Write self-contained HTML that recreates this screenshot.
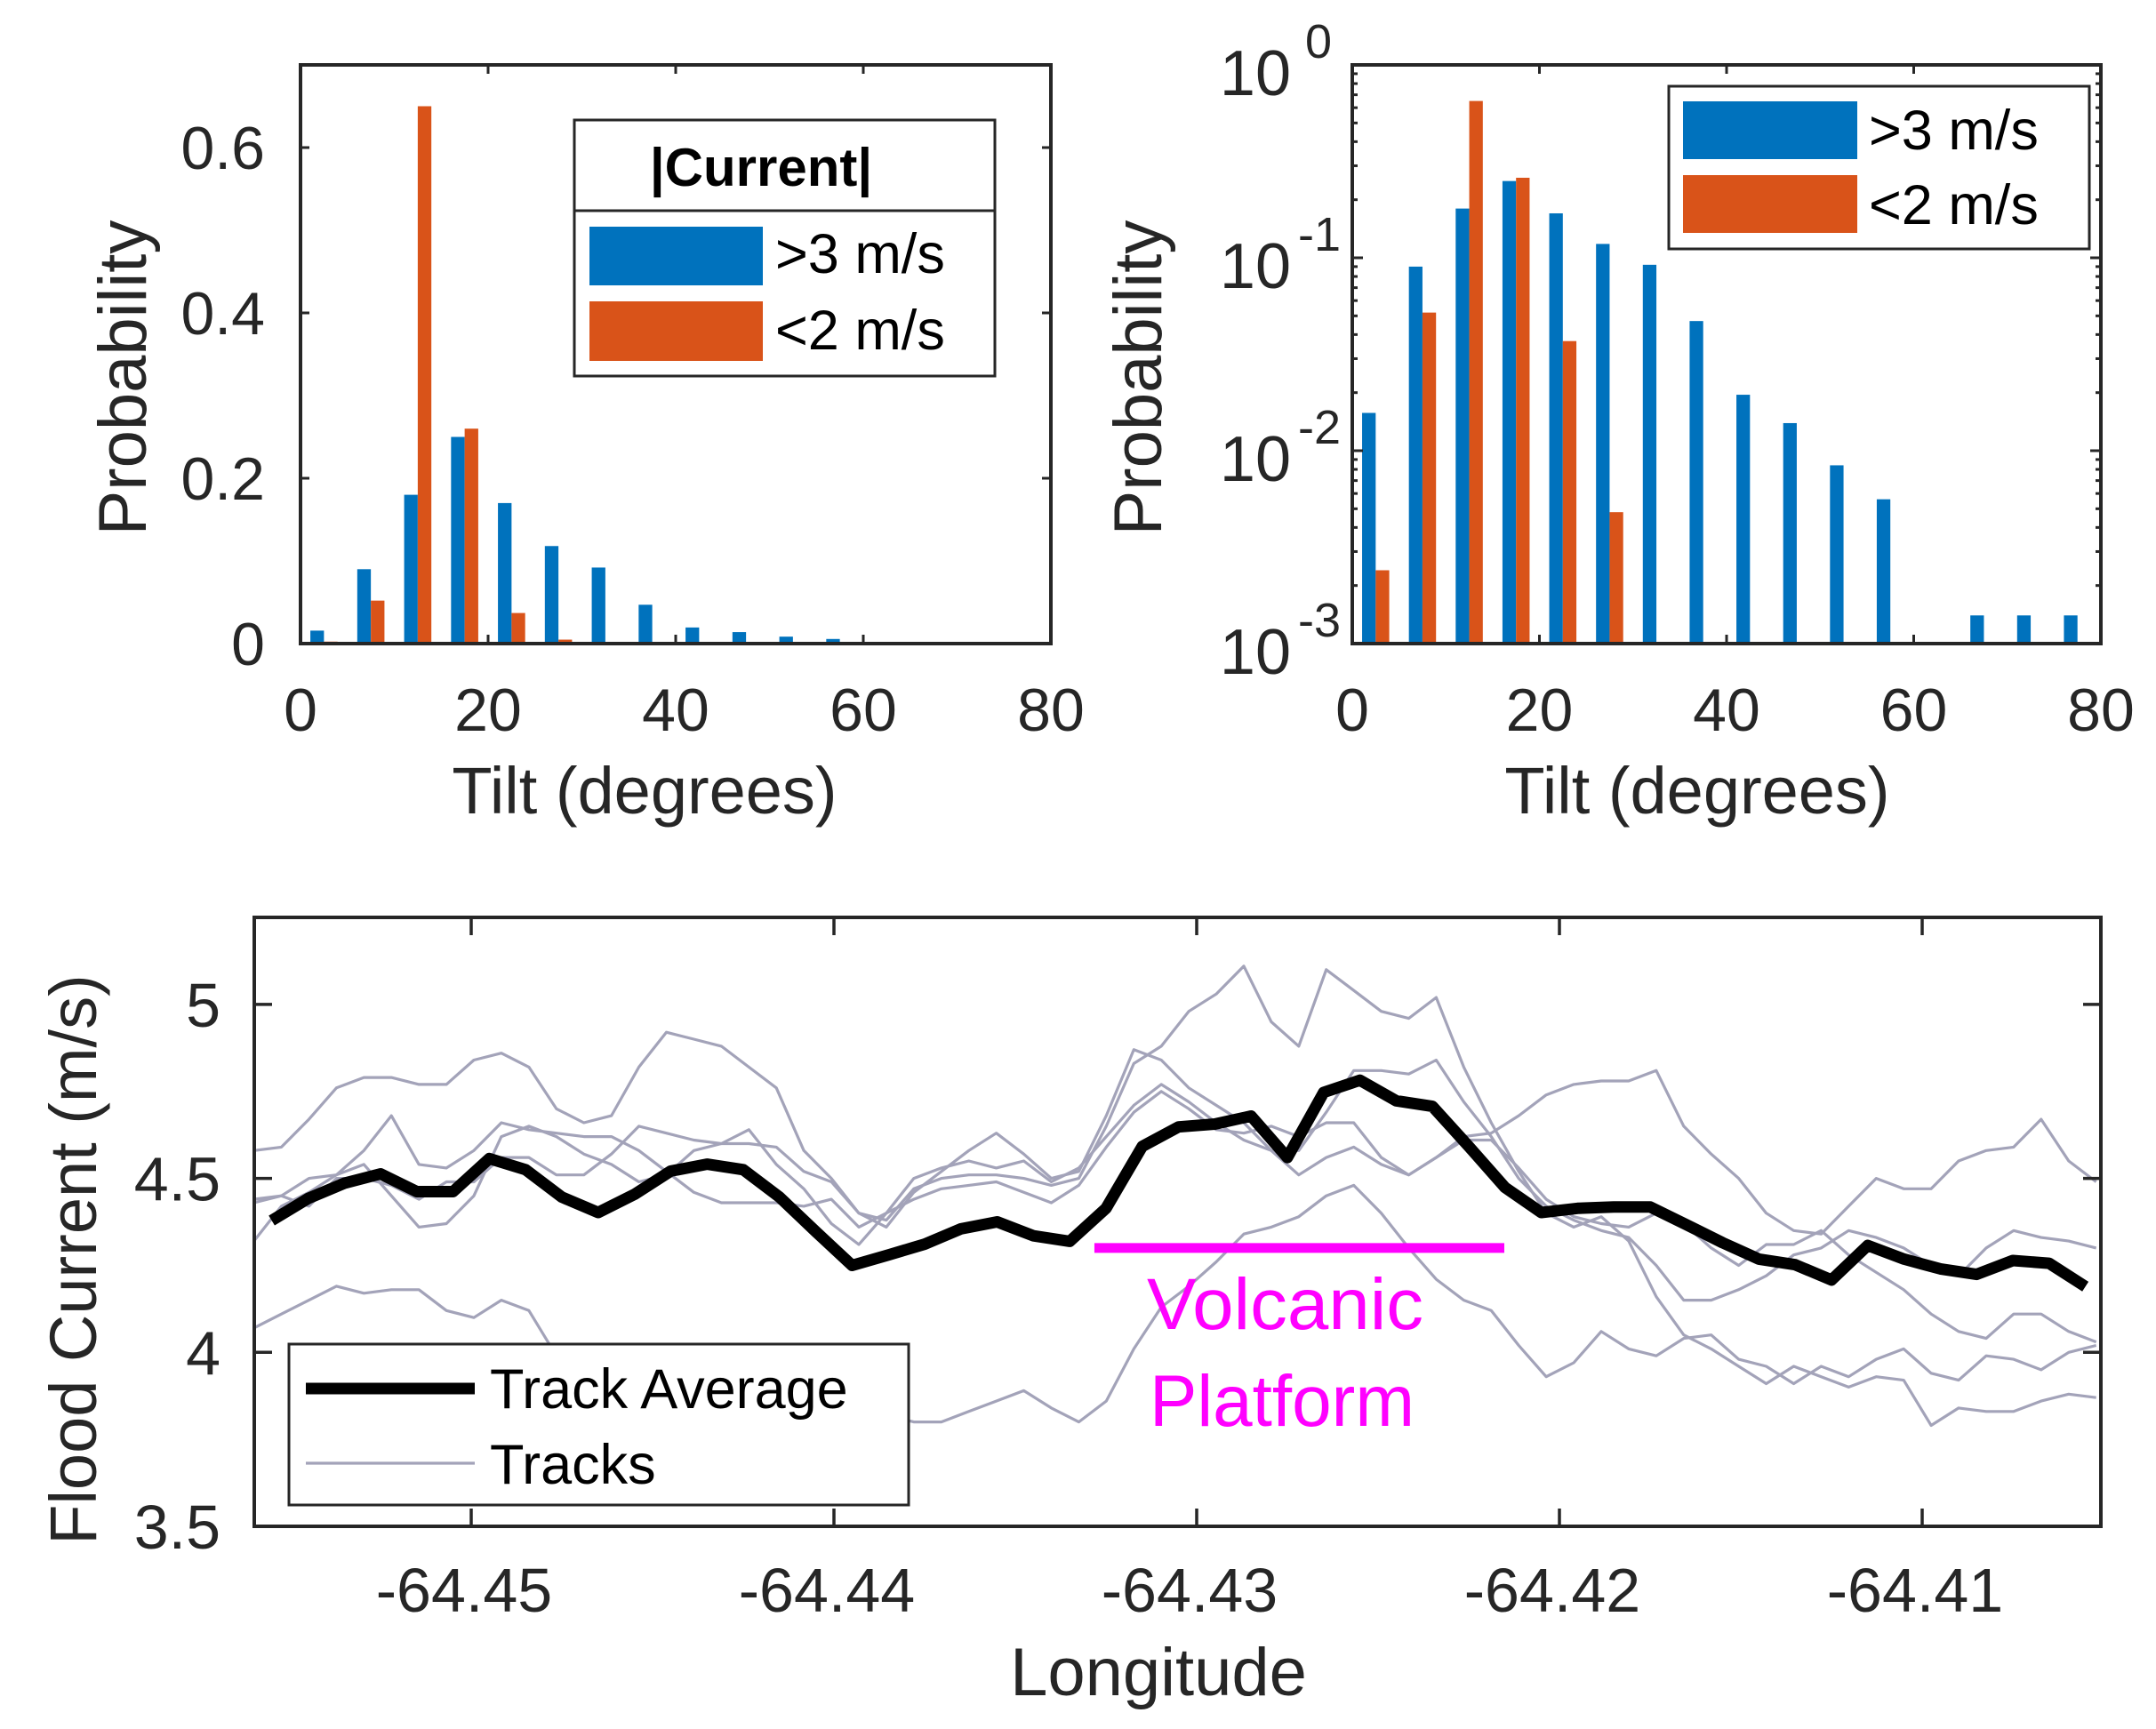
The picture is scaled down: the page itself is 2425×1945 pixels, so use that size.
<!DOCTYPE html>
<html><head><meta charset="utf-8"><style>
html,body{margin:0;padding:0;background:#fff}
svg{display:block}
text{font-family:"Liberation Sans",sans-serif}
</style></head><body>
<svg id="fig" width="2425" height="1945" viewBox="0 0 2425 1945" xmlns="http://www.w3.org/2000/svg">
<defs><clipPath id="clipB"><rect x="286" y="1032" width="2077" height="685"/></clipPath></defs>
<g id="hl"></g>
<g id="hr"></g>
<g id="lc"></g>
</svg>
<script>
// ---- histogram data ----
const binCenters=[2.5,7.5,12.5,17.5,22.5,27.5,32.5,37.5,42.5,47.5,52.5,57.5,62.5,67.5,72.5,77.5];
const fastProb=[0.0157,0.09,0.18,0.25,0.17,0.118,0.092,0.047,0.0195,0.0139,0.0084,0.0056,0,0.0014,0.0014,0.0014];
const slowProb=[0.0024,0.052,0.65,0.26,0.037,0.0048,0.0009,0.0009,0,0,0,0,0,0,0,0];
const linTicks=[0,0.2,0.4,0.6];
const linTickLabels=["0","0.2","0.4","0.6"];
const tiltTicks=[0,20,40,60,80];
const logExps=[0,-1,-2,-3];
// ---- track data ----
const avgLon0=-64.4555, avgStep=0.001;
const trackAverage=[4.379,4.442,4.486,4.513,4.462,4.462,4.557,4.525,4.446,4.402,4.454,4.521,4.541,4.525,4.446,4.347,4.25,4.28,4.311,4.355,4.375,4.335,4.319,4.414,4.592,4.648,4.656,4.679,4.56,4.747,4.782,4.723,4.707,4.592,4.474,4.402,4.414,4.418,4.418,4.367,4.315,4.268,4.252,4.208,4.307,4.268,4.240,4.224,4.264,4.256,4.189];
const trkLon0=-64.45599, trkStep=0.000758;
const trackA=[4.58,4.59,4.67,4.76,4.79,4.79,4.77,4.77,4.84,4.86,4.82,4.70,4.66,4.68,4.82,4.92,4.90,4.88,4.82,4.76,4.58,4.50,4.40,4.38,4.47,4.50,4.51,4.51,4.50,4.48,4.50,4.65,4.83,4.88,4.98,5.03,5.11,4.95,4.88,5.10,5.04,4.98,4.96,5.02,4.82,4.66,4.52,4.40,4.36,4.39,4.32,4.16,4.05,4.01,3.96,3.91,3.96,3.93,3.90,3.93,3.92,3.79,3.84,3.83,3.83,3.86,3.88,3.87];
const trackB=[4.43,4.45,4.50,4.51,4.58,4.68,4.54,4.53,4.58,4.66,4.64,4.63,4.62,4.62,4.58,4.52,4.46,4.43,4.43,4.43,4.42,4.44,4.36,4.40,4.50,4.53,4.55,4.53,4.55,4.49,4.53,4.62,4.71,4.77,4.72,4.66,4.61,4.58,4.58,4.69,4.81,4.81,4.80,4.84,4.72,4.62,4.50,4.42,4.38,4.35,4.33,4.25,4.15,4.15,4.18,4.22,4.28,4.30,4.35,4.33,4.30,4.25,4.22,4.30,4.35,4.33,4.32,4.30];
const trackC=[4.32,4.42,4.46,4.51,4.54,4.45,4.36,4.37,4.45,4.62,4.65,4.62,4.57,4.54,4.49,4.51,4.58,4.60,4.64,4.54,4.47,4.37,4.31,4.40,4.44,4.47,4.48,4.49,4.46,4.43,4.48,4.59,4.69,4.75,4.70,4.64,4.63,4.65,4.62,4.66,4.66,4.56,4.51,4.56,4.61,4.61,4.53,4.44,4.39,4.37,4.36,4.40,4.37,4.30,4.25,4.31,4.31,4.35,4.28,4.23,4.18,4.11,4.06,4.04,4.11,4.11,4.06,4.03];
const trackD=[4.07,4.11,4.15,4.19,4.17,4.18,4.18,4.12,4.10,4.15,4.12,3.99,3.95,3.93,3.92,3.95,3.94,3.92,3.89,3.87,3.85,3.84,3.83,3.82,3.80,3.80,3.83,3.86,3.89,3.84,3.80,3.86,4.01,4.13,4.19,4.26,4.34,4.36,4.39,4.45,4.48,4.40,4.30,4.21,4.15,4.12,4.02,3.93,3.97,4.06,4.01,3.99,4.04,4.05,3.98,3.96,3.91,3.96,3.93,3.98,4.01,3.94,3.92,3.99,3.98,3.95,4.00,4.02];
const trackE=[4.44,4.45,4.42,4.50,4.50,4.48,4.44,4.49,4.49,4.56,4.56,4.51,4.51,4.57,4.65,4.63,4.61,4.60,4.60,4.59,4.52,4.49,4.40,4.36,4.46,4.52,4.58,4.63,4.57,4.50,4.52,4.68,4.87,4.84,4.76,4.71,4.66,4.58,4.51,4.56,4.59,4.54,4.51,4.56,4.62,4.63,4.68,4.74,4.77,4.78,4.78,4.81,4.65,4.57,4.50,4.40,4.35,4.34,4.42,4.50,4.47,4.47,4.55,4.58,4.59,4.67,4.55,4.49];
const lonTicks=[-64.45,-64.44,-64.43,-64.42,-64.41];
const lonTickLabels=["-64.45","-64.44","-64.43","-64.42","-64.41"];
const curTicks=[3.5,4,4.5,5];
const curTickLabels=["3.5","4","4.5","5"];
const platformLon=[-64.43282,-64.42152];
const platformLevel=4.3;

const NS="http://www.w3.org/2000/svg";
function mk(parent,tag,attrs,txt){const e=document.createElementNS(NS,tag);for(const k in attrs)e.setAttribute(k,attrs[k]);if(tag==='text'&&!attrs.fill)e.setAttribute('fill','#262626');if(txt!==undefined)e.textContent=txt;parent.appendChild(e);return e;}
const AX="#262626", BLUE="#0072BD", ORANGE="#D95319", GRAY="#A3A3B9";
const TF=68;

// ===== linear histogram =====
(function(){
const g=document.getElementById('hl');
const L=338,R=1182,T=73,B=724;
const sx=t=>L+t/80*(R-L), sy=p=>B-p/0.7*(B-T);
binCenters.forEach((c,i)=>{
  if(fastProb[i]>0){const r=mk(g,'rect',{x:sx(c-1.45),y:sy(fastProb[i]),width:sx(1.45)-L,height:B-sy(fastProb[i]),fill:BLUE});
  
  }
  if(slowProb[i]>0){const r=mk(g,'rect',{x:sx(c),y:sy(slowProb[i]),width:sx(1.45)-L,height:B-sy(slowProb[i]),fill:ORANGE});
  
  }
});
tiltTicks.forEach(t=>{
  mk(g,'line',{x1:sx(t),x2:sx(t),y1:B,y2:B-10,stroke:AX,'stroke-width':3});
  mk(g,'line',{x1:sx(t),x2:sx(t),y1:T,y2:T+10,stroke:AX,'stroke-width':3});
  const tx=mk(g,'text',{x:sx(t),y:822,'font-size':TF,'text-anchor':'middle'},String(t));
  
  
});
linTicks.forEach((v,i)=>{
  mk(g,'line',{x1:L,x2:L+10,y1:sy(v),y2:sy(v),stroke:AX,'stroke-width':3});
  mk(g,'line',{x1:R,x2:R-10,y1:sy(v),y2:sy(v),stroke:AX,'stroke-width':3});
  const tx=mk(g,'text',{x:298,y:sy(v)+24,'font-size':TF,'text-anchor':'end'},linTickLabels[i]);
  
  
});
const fr=mk(g,'rect',{x:L,y:T,width:R-L,height:B-T,fill:'none',stroke:AX,'stroke-width':4});


const xl=mk(g,'text',{x:725,y:915,'font-size':74,'text-anchor':'middle'},'Tilt (degrees)');


const yl=mk(g,'text',{x:0,y:0,'font-size':76,'text-anchor':'middle',transform:'translate(164,425) rotate(-90)'},'Probability');


const lg=mk(g,'g',{});


mk(lg,'rect',{x:646,y:135,width:473,height:288,fill:'#fff',stroke:AX,'stroke-width':3});
mk(lg,'line',{x1:646,x2:1119,y1:237,y2:237,stroke:AX,'stroke-width':3});
const lt=mk(lg,'text',{x:856,y:209,'font-size':60,'font-weight':'bold','text-anchor':'middle',fill:'#000'},'|Current|');


mk(lg,'rect',{x:663,y:255,width:195,height:66,fill:BLUE});
mk(lg,'rect',{x:663,y:339,width:195,height:67,fill:ORANGE});
const l1=mk(lg,'text',{x:872,y:307,'font-size':63,fill:'#000'},'>3 m/s');


const l2=mk(lg,'text',{x:872,y:393,'font-size':63,fill:'#000'},'<2 m/s');


})();

// ===== log histogram =====
(function(){
const g=document.getElementById('hr');
const L=1521,R=2363,T=73,B=724;
const sx=t=>L+t/80*(R-L), sy=p=>T+(-Math.log10(p))/3*(B-T);
binCenters.forEach((c,i)=>{
  if(fastProb[i]>=0.001){const r=mk(g,'rect',{x:sx(c-1.45),y:sy(fastProb[i]),width:sx(1.45)-L,height:B-sy(fastProb[i]),fill:BLUE});
  
  }
  if(slowProb[i]>=0.001){const r=mk(g,'rect',{x:sx(c),y:sy(slowProb[i]),width:sx(1.45)-L,height:B-sy(slowProb[i]),fill:ORANGE});
  
  }
});
tiltTicks.forEach(t=>{
  mk(g,'line',{x1:sx(t),x2:sx(t),y1:B,y2:B-10,stroke:AX,'stroke-width':3});
  mk(g,'line',{x1:sx(t),x2:sx(t),y1:T,y2:T+10,stroke:AX,'stroke-width':3});
  const tx=mk(g,'text',{x:sx(t),y:822,'font-size':TF,'text-anchor':'middle'},String(t));
  
  
});
logExps.forEach(e=>{
  const y=sy(Math.pow(10,e));
  mk(g,'line',{x1:L,x2:L+12,y1:y,y2:y,stroke:AX,'stroke-width':3});
  mk(g,'line',{x1:R,x2:R-12,y1:y,y2:y,stroke:AX,'stroke-width':3});
  if(e>-3){for(let k=2;k<=9;k++){const ym=sy(k*Math.pow(10,e-1));
    mk(g,'line',{x1:L,x2:L+6,y1:ym,y2:ym,stroke:AX,'stroke-width':3});
    mk(g,'line',{x1:R,x2:R-6,y1:ym,y2:ym,stroke:AX,'stroke-width':3});}}
  const tx=mk(g,'text',{x:1452,y:y+34,'font-size':72,'text-anchor':'end'},'10');
  
  
  const sp=mk(g,'text',{x:e===0?1468:1460,y:y-8,'font-size':54},String(e));
  
  
});
const fr=mk(g,'rect',{x:L,y:T,width:R-L,height:B-T,fill:'none',stroke:AX,'stroke-width':4});


const xl=mk(g,'text',{x:1909,y:915,'font-size':74,'text-anchor':'middle'},'Tilt (degrees)');


const yl=mk(g,'text',{x:0,y:0,'font-size':76,'text-anchor':'middle',transform:'translate(1306,425) rotate(-90)'},'Probability');


const lg=mk(g,'g',{});


mk(lg,'rect',{x:1877,y:97,width:473,height:183,fill:'#fff',stroke:AX,'stroke-width':3});
mk(lg,'rect',{x:1893,y:114,width:196,height:65,fill:BLUE});
mk(lg,'rect',{x:1893,y:197,width:196,height:65,fill:ORANGE});
const l1=mk(lg,'text',{x:2102,y:168,'font-size':63,fill:'#000'},'>3 m/s');


const l2=mk(lg,'text',{x:2102,y:252,'font-size':63,fill:'#000'},'<2 m/s');


})();

// ===== line chart =====
(function(){
const g=document.getElementById('lc');
const L=286,R=2363,T=1032,B=1717;
const sx=lon=>530+(lon+64.45)/0.01*408, sy=v=>B-(v-3.5)/0.5*195.7;
const cg=mk(g,'g',{'clip-path':'url(#clipB)'});
[trackA,trackB,trackC,trackD,trackE].forEach((tr,j)=>{
  const pts=tr.map((v,i)=>sx(trkLon0+trkStep*i).toFixed(1)+','+sy(v).toFixed(1)).join(' ');
  const p=mk(cg,'polyline',{points:pts,fill:'none',stroke:GRAY,'stroke-width':3.2,'stroke-linejoin':'round'});
  
  
});
const apts=trackAverage.map((v,i)=>sx(avgLon0+avgStep*i).toFixed(1)+','+sy(v).toFixed(1)).join(' ');
const ap=mk(cg,'polyline',{points:apts,fill:'none',stroke:'#000','stroke-width':13,'stroke-linejoin':'round'});


const pb=mk(g,'line',{x1:sx(platformLon[0]),x2:sx(platformLon[1]),y1:sy(platformLevel),y2:sy(platformLevel),stroke:'#FF00FF','stroke-width':11});


const v1=mk(g,'text',{x:1290,y:1495,'font-size':82,fill:'#FF00FF',textLength:311,lengthAdjust:'spacingAndGlyphs'},'Volcanic');


const v2=mk(g,'text',{x:1293,y:1604,'font-size':82,fill:'#FF00FF',textLength:298,lengthAdjust:'spacingAndGlyphs'},'Platform');


lonTicks.forEach((t,i)=>{
  mk(g,'line',{x1:sx(t),x2:sx(t),y1:B,y2:B-20,stroke:AX,'stroke-width':3.5});
  mk(g,'line',{x1:sx(t),x2:sx(t),y1:T,y2:T+20,stroke:AX,'stroke-width':3.5});
  const tx=mk(g,'text',{x:sx(t)-8,y:1813,'font-size':70,'text-anchor':'middle'},lonTickLabels[i]);
  
  
});
curTicks.forEach((v,i)=>{
  mk(g,'line',{x1:L,x2:L+20,y1:sy(v),y2:sy(v),stroke:AX,'stroke-width':3.5});
  mk(g,'line',{x1:R,x2:R-20,y1:sy(v),y2:sy(v),stroke:AX,'stroke-width':3.5});
  const tx=mk(g,'text',{x:248,y:sy(v)+25,'font-size':70,'text-anchor':'end'},curTickLabels[i]);
  
  
});
const fr=mk(g,'rect',{x:L,y:T,width:R-L,height:B-T,fill:'none',stroke:AX,'stroke-width':4});


const xl=mk(g,'text',{x:1303,y:1907,'font-size':76,'text-anchor':'middle'},'Longitude');


const yl=mk(g,'text',{x:0,y:0,'font-size':74,'text-anchor':'middle',transform:'translate(108,1417) rotate(-90)'},'Flood Current (m/s)');


const lg=mk(g,'g',{});


mk(lg,'rect',{x:325,y:1512,width:697,height:181,fill:'#fff',stroke:AX,'stroke-width':3});
mk(lg,'line',{x1:344,x2:534,y1:1562,y2:1562,stroke:'#000','stroke-width':13});
mk(lg,'line',{x1:344,x2:534,y1:1646,y2:1646,stroke:GRAY,'stroke-width':3.2});
const l1=mk(lg,'text',{x:551,y:1584,'font-size':63,fill:'#000'},'Track Average');


const l2=mk(lg,'text',{x:551,y:1669,'font-size':63,fill:'#000'},'Tracks');


})();
</script>
</body></html>
